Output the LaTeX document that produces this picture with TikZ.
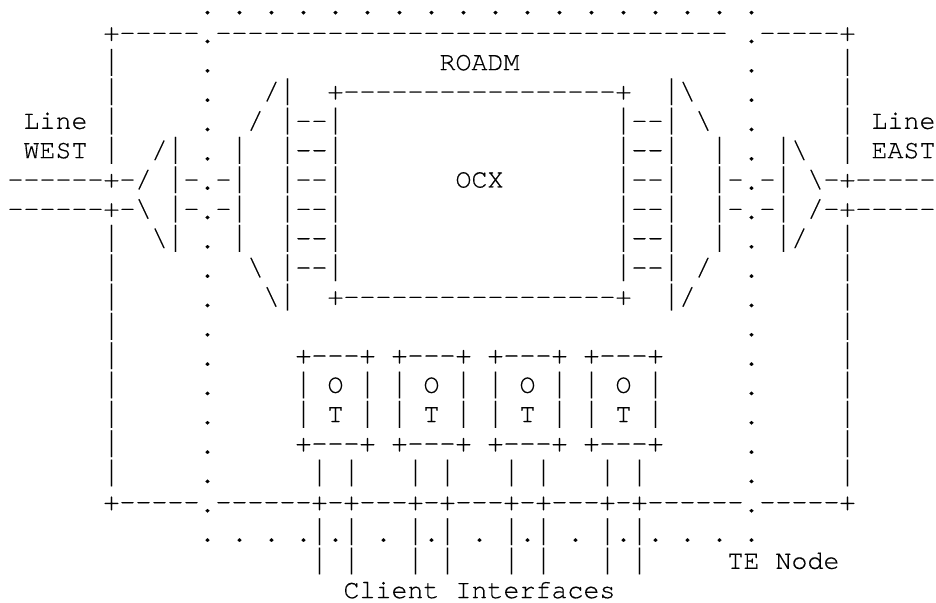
\documentclass[tikz,border=0pt]{standalone}
\usepackage{fontspec}
\setmonofont{TeX Gyre Cursor}[FakeBold=0.35]
\newdimen\charw \charw=12pt
\newcommand\pad[1]{\hspace*{#1\charw}}
\newcommand\bs{\symbol{92}}
\newcommand\vb{\raisebox{-0.8pt}{\scalebox{1}[1.38]{|}}}
\newcommand\dt{\raisebox{-1.5pt}{.}}
\tikzset{artline/.style={inner sep=0pt,outer sep=0pt,anchor=base west,text=black,font=\fontsize{20pt}{22pt}\selectfont\ttfamily}}
\begin{document}
\begin{tikzpicture}[x=0.75pt,y=-0.75pt]
\useasboundingbox (0,0) rectangle (936,603);
\node[artline] (r0) at (7.5,12) {\pad{12}\dt\pad1\dt\pad1\dt\pad1\dt\pad1\dt\pad1\dt\pad1\dt\pad1\dt\pad1\dt\pad1\dt\pad1\dt\pad1\dt\pad1\dt\pad1\dt\pad1\dt\pad1\dt\pad1\dt\pad1\dt};
\node[artline] (r1) at (7.5,40.83) {\pad6+-----\dt--------------------------------\pad1\dt-----+};
\node[artline] (r2) at (7.5,70.16) {\pad6\vb\pad5\dt\pad{14}ROADM\pad{14}\dt\pad5\vb};
\node[artline] (r3) at (7.5,99.49) {\pad6\vb\pad5\dt\pad3/\vb\pad2+-----------------+\pad2\vb\bs\pad3\dt\pad5\vb};
\node[artline] (r4) at (7.5,128.82) {\pad1Line\pad1\vb\pad5\dt\pad2/\pad1\vb--\vb\pad{17}\vb--\vb\pad1\bs\pad2\dt\pad5\vb\pad1Line};
\node[artline] (r5) at (7.5,158.15) {\pad1WEST\pad1\vb\pad2/\vb\pad1\dt\pad1\vb\pad2\vb--\vb\pad{17}\vb--\vb\pad2\vb\pad1\dt\pad1\vb\bs\pad2\vb\pad1EAST};
\node[artline] (r6) at (7.5,187.48) {------+-/\pad1\vb-\dt-\vb\pad2\vb--\vb\pad7OCX\pad7\vb--\vb\pad2\vb-\dt-\vb\pad1\bs-+-----};
\node[artline] (r7) at (7.5,216.81) {------+-\bs\pad1\vb-\dt-\vb\pad2\vb--\vb\pad{17}\vb--\vb\pad2\vb-\dt-\vb\pad1/-+-----};
\node[artline] (r8) at (7.5,246.14) {\pad6\vb\pad2\bs\vb\pad1\dt\pad1\vb\pad2\vb--\vb\pad{17}\vb--\vb\pad2\vb\pad1\dt\pad1\vb/\pad2\vb};
\node[artline] (r9) at (7.5,275.47) {\pad6\vb\pad5\dt\pad2\bs\pad1\vb--\vb\pad{17}\vb--\vb\pad1/\pad2\dt\pad5\vb};
\node[artline] (r10) at (7.5,304.8) {\pad6\vb\pad5\dt\pad3\bs\vb\pad2+-----------------+\pad2\vb/\pad3\dt\pad5\vb};
\node[artline] (r11) at (7.5,334.13) {\pad6\vb\pad5\dt\pad{33}\dt\pad5\vb};
\node[artline] (r12) at (7.5,363.46) {\pad6\vb\pad5\dt\pad5+---+\pad1+---+\pad1+---+\pad1+---+\pad5\dt\pad5\vb};
\node[artline] (r13) at (7.5,392.79) {\pad6\vb\pad5\dt\pad5\vb\pad1O\pad1\vb\pad1\vb\pad1O\pad1\vb\pad1\vb\pad1O\pad1\vb\pad1\vb\pad1O\pad1\vb\pad5\dt\pad5\vb};
\node[artline] (r14) at (7.5,422.12) {\pad6\vb\pad5\dt\pad5\vb\pad1T\pad1\vb\pad1\vb\pad1T\pad1\vb\pad1\vb\pad1T\pad1\vb\pad1\vb\pad1T\pad1\vb\pad5\dt\pad5\vb};
\node[artline] (r15) at (7.5,451.45) {\pad6\vb\pad5\dt\pad5+---+\pad1+---+\pad1+---+\pad1+---+\pad5\dt\pad5\vb};
\node[artline] (r16) at (7.5,480.78) {\pad6\vb\pad5\dt\pad6\vb\pad1\vb\pad3\vb\pad1\vb\pad3\vb\pad1\vb\pad3\vb\pad1\vb\pad6\dt\pad5\vb};
\node[artline] (r17) at (7.5,510.11) {\pad6+-----\dt------+-+---+-+---+-+---+-+------\dt-----+};
\node[artline] (r18) at (7.5,539.44) {\pad{12}\dt\pad1\dt\pad1\dt\pad1\dt\vb\dt\vb\pad1\dt\pad1\vb\dt\vb\pad1\dt\pad1\vb\dt\vb\pad1\dt\pad1\vb\dt\vb\dt\pad1\dt\pad1\dt\pad1\dt};
\node[artline] (r19) at (7.5,568.77) {\pad{19}\vb\pad1\vb\pad3\vb\pad1\vb\pad3\vb\pad1\vb\pad3\vb\pad1\vb\pad5TE Node};
\node[artline] (r20) at (7.5,598.1) {\pad{21}Client Interfaces};
\end{tikzpicture}
\end{document}
